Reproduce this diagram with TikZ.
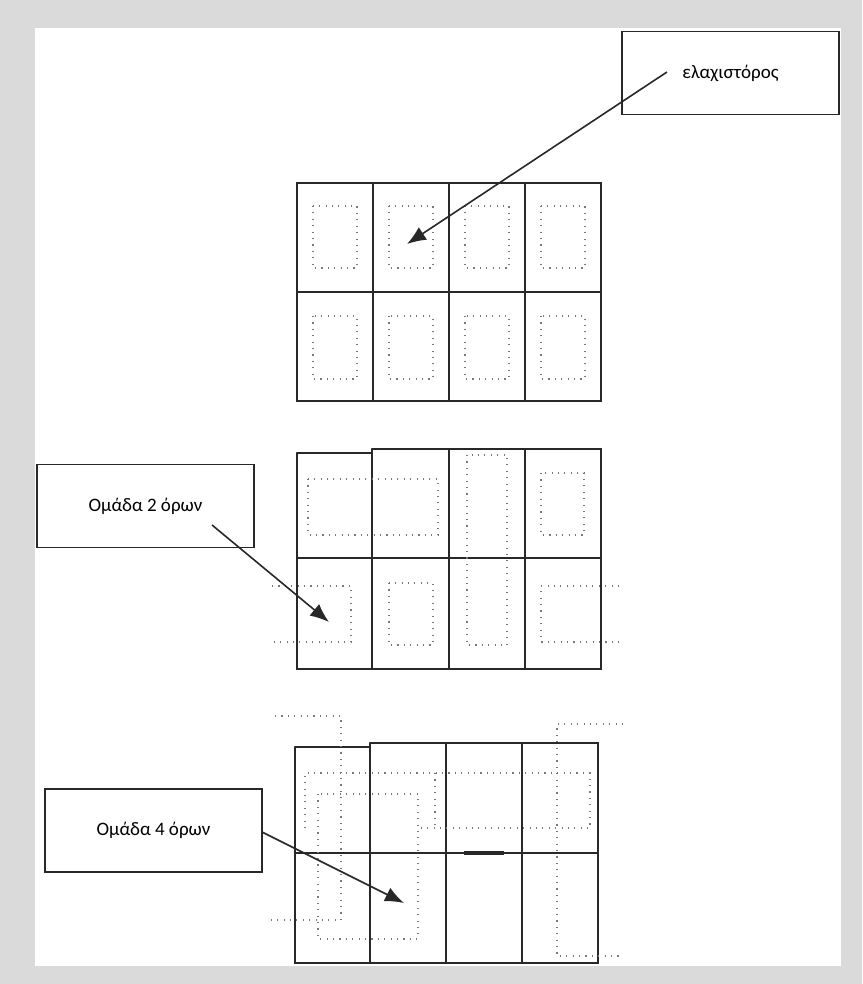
\documentclass[tikz,border=0pt]{standalone}
\usepackage{fontspec}
\setmainfont{Carlito}
\usetikzlibrary{arrows.meta}
\definecolor{bggray}{RGB}{218,218,218}
\definecolor{ink}{RGB}{40,40,40}
\definecolor{dotgray}{RGB}{120,120,120}
\tikzset{
  gridline/.style={draw=ink, line width=1.7pt, line cap=round},
  dotline/.style={draw=dotgray, line width=1.1pt, dash pattern=on 1.1pt off 5.3pt},
  labelbox/.style={draw=ink, line width=1.6pt, fill=white, minimum width=217pt, minimum height=83pt, font=\fontsize{19}{22}\selectfont, inner sep=0pt},
  arr/.style={draw=ink, line width=1.6pt, -{Latex[length=19pt,width=15pt]}}
}
\begin{document}
\begin{tikzpicture}[x=1pt,y=-1pt]
\useasboundingbox (0,0) rectangle (862,984);
\fill[bggray] (0,0) rectangle (862,984);
\fill[white] (35,28) rectangle (841,966);

% ---------- grid 1 ----------
\draw[gridline] (297,183) rectangle (601,401);
\draw[gridline] (297,292) -- (601,292);
\foreach \x in {373,449,525} \draw[gridline] (\x,183) -- (\x,401);
\foreach \a/\b in {313/357,389/433,465/509,541/585}{
  \draw[dotline] (\a,206) rectangle (\b,268);
  \draw[dotline] (\a,316) rectangle (\b,379);
}

% ---------- grid 2 ----------
\draw[gridline] (297,453) -- (372,453);
\draw[gridline] (372,449) -- (601,449) -- (601,669) -- (297,669) -- (297,453);
\draw[gridline] (297,558) -- (601,558);
\foreach \x in {372,449,525} \draw[gridline] (\x,449) -- (\x,669);
\draw[dotline] (308,479) rectangle (438,535);
\draw[dotline] (467,455) rectangle (507,645);
\draw[dotline] (541,473) rectangle (584,535);
\draw[dotline] (389,583) rectangle (433,645);
\draw[dotline] (272,586) -- (351,586) -- (351,642) -- (272,642);
\draw[dotline] (619,586) -- (541,586) -- (541,642) -- (619,642);

% ---------- grid 3 ----------
\draw[gridline] (295,747) -- (370,747);
\draw[gridline] (370,743) -- (598,743) -- (598,963) -- (295,963) -- (295,747);
\draw[gridline] (295,853) -- (598,853);
\foreach \x in {370,446,522} \draw[gridline] (\x,743) -- (\x,963);
\draw[draw=ink, line width=3.2pt] (464,853) -- (504,853);
% top-row group
\draw[dotline] (305,828) -- (305,773) -- (590,773) -- (590,828) -- (420,828);
\draw[dotline] (435,773) -- (435,828);
% square group (cells 1-2, both rows)
\draw[dotline] (318,794) rectangle (418,939);
% wrap-around group (columns 1 and 4)
\draw[dotline] (275,716) -- (341,716) -- (341,920) -- (270,920);
\draw[dotline] (623,724) -- (557,724) -- (557,956) -- (623,956);

% ---------- labels and arrows ----------
\node[labelbox] (b1) at (730.5,73) {ελαχιστόρος};
\node[labelbox] (b2) at (145.5,506) {\raisebox{-5pt}{Ομάδα 2 όρων}};
\node[labelbox] (b3) at (153.5,830.5) {Ομάδα 4 όρων};

\coordinate (s1) at (667,72);
\coordinate (e1) at (407,244);
\coordinate (s2) at (212,525);
\coordinate (e2) at (329,622);
\coordinate (s3) at (262,832);
\coordinate (e3) at (404,903);
\draw[arr] (s1) -- (e1);
\draw[arr] (s2) -- (e2);
\draw[arr] (s3) -- (e3);
\end{tikzpicture}
\end{document}
